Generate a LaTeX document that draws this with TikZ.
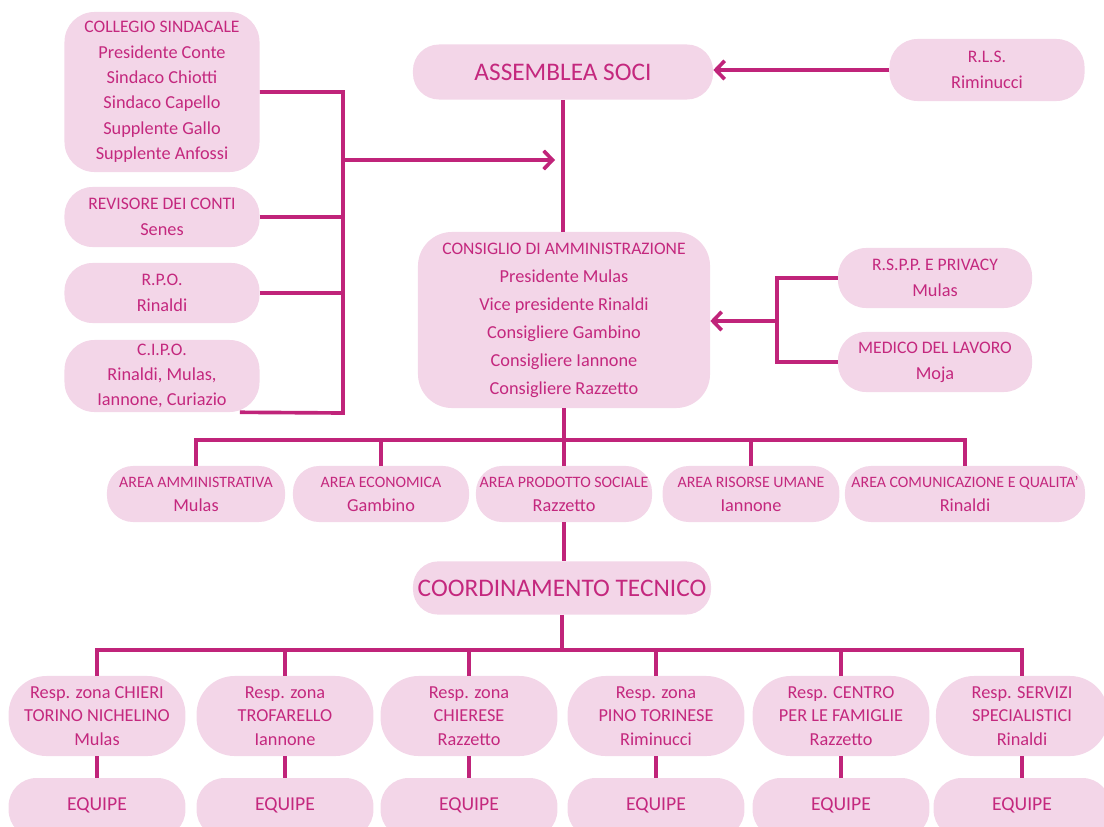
\documentclass[tikz,border=0pt]{standalone}
\usepackage{fontspec}
\setmainfont{Carlito}
\usetikzlibrary{arrows.meta}
\definecolor{boxpink}{RGB}{243,214,232}
\definecolor{linemag}{RGB}{192,36,122}
\definecolor{textmag}{RGB}{196,40,126}

\newcommand{\hd}[1]{{\fontsize{12.5}{15}\selectfont #1}}
\newcommand{\hds}[1]{{\fontsize{11.3}{13}\selectfont #1}}
\newcommand{\ttl}[1]{{\fontsize{18}{21}\selectfont #1}}

\tikzset{
  box/.style={fill=boxpink, text=textmag, align=center, inner sep=2pt,
    font=\fontsize{13}{18}\selectfont, rounded corners=0.7cm},
  link/.style={draw=linemag, line width=2.6pt},
  arrow/.style={link, -{Straight Barb[length=2.2mm,width=4.6mm]}},
}

\begin{document}
\begin{tikzpicture}[x=0.025cm,y=-0.025cm]
    \useasboundingbox (0,0) rectangle (1104,827);
    \clip (0,0) rectangle (1104,827);

    % Organi di controllo a sinistra
    \node[box, minimum width=4.875cm, minimum height=4cm, rounded corners=0.75cm] (collegio) at (162,92)
      {\hd{COLLEGIO SINDACALE}\\Presidente Conte\\Sindaco Chiotti\\Sindaco Capello\\Supplente Gallo\\Supplente Anfossi};
    \node[box, minimum width=4.875cm, minimum height=1.5cm, font=\fontsize{13}{18.5}\selectfont] (revisore) at (162,217)
      {\hd{REVISORE DEI CONTI}\\Senes};
    \node[box, minimum width=4.875cm, minimum height=1.5cm, font=\fontsize{13}{18.5}\selectfont] (rpo) at (162,293)
      {\hd{R.P.O.}\\Rinaldi};
    \node[box, minimum width=4.875cm, minimum height=1.8cm, rounded corners=0.75cm] (cipo) at (162,376)
      {\hd{C.I.P.O.}\\Rinaldi, Mulas,\\Iannone, Curiazio};

    % Assemblea e consiglio
    \node[box, minimum width=7.5cm, minimum height=1.375cm, rounded corners=0.65cm] (assemblea) at (563,72)
      {\ttl{ASSEMBLEA SOCI}};
    \node[box, minimum width=4.875cm, minimum height=1.55cm, font=\fontsize{13}{18.5}\selectfont] (rls) at (987,70)
      {\hd{R.L.S.}\\Riminucci};
    \node[box, minimum width=7.3cm, minimum height=4.4cm, rounded corners=0.85cm, font=\fontsize{13}{19.9}\selectfont] (cda) at (564,320)
      {\hd{CONSIGLIO DI AMMINISTRAZIONE}\\Presidente Mulas\\Vice presidente Rinaldi\\Consigliere Gambino\\Consigliere Iannone\\Consigliere Razzetto};

    % Sicurezza a destra
    \node[box, minimum width=4.85cm, minimum height=1.5cm, font=\fontsize{13}{18.5}\selectfont] (rspp) at (935,278)
      {\hd{R.S.P.P. E PRIVACY}\\Mulas};
    \node[box, minimum width=4.85cm, minimum height=1.5cm, font=\fontsize{13}{18.5}\selectfont] (medico) at (935,362)
      {\hd{MEDICO DEL LAVORO}\\Moja};

    % Aree
    \node[box, minimum width=4.45cm, minimum height=1.4cm, rounded corners=0.65cm, font=\fontsize{13}{17}\selectfont] (amm) at (196,494)
      {\hds{AREA AMMINISTRATIVA}\\Mulas};
    \node[box, minimum width=4.4cm, minimum height=1.4cm, rounded corners=0.65cm, font=\fontsize{13}{17}\selectfont] (eco) at (381,494)
      {\hds{AREA ECONOMICA}\\Gambino};
    \node[box, minimum width=4.4cm, minimum height=1.4cm, rounded corners=0.65cm, font=\fontsize{13}{17}\selectfont] (prod) at (564,494)
      {\hds{AREA PRODOTTO SOCIALE}\\Razzetto};
    \node[box, minimum width=4.42cm, minimum height=1.4cm, rounded corners=0.65cm, font=\fontsize{13}{17}\selectfont] (ris) at (751,494)
      {\hds{AREA RISORSE UMANE}\\Iannone};
    \node[box, minimum width=6cm, minimum height=1.4cm, rounded corners=0.65cm, font=\fontsize{13}{17}\selectfont] (com) at (965,494)
      {\hds{AREA COMUNICAZIONE E QUALITA'}\\Rinaldi};

    % Coordinamento
    \node[box, minimum width=7.45cm, minimum height=1.33cm, rounded corners=0.63cm] (coord) at (562,588)
      {\ttl{COORDINAMENTO TECNICO}};

    % Responsabili di zona
    \node[box, minimum width=4.42cm, minimum height=2cm, rounded corners=0.95cm, font=\fontsize{13}{16.7}\selectfont] (r1) at (97,716)
      {Resp. zona CHIERI\\TORINO NICHELINO\\Mulas};
    \node[box, minimum width=4.42cm, minimum height=2cm, rounded corners=0.95cm, font=\fontsize{13}{16.7}\selectfont] (r2) at (285,716)
      {Resp. zona\\TROFARELLO\\Iannone};
    \node[box, minimum width=4.42cm, minimum height=2cm, rounded corners=0.95cm, font=\fontsize{13}{16.7}\selectfont] (r3) at (469,716)
      {Resp. zona\\CHIERESE\\Razzetto};
    \node[box, minimum width=4.42cm, minimum height=2cm, rounded corners=0.95cm, font=\fontsize{13}{16.7}\selectfont] (r4) at (656,716)
      {Resp. zona\\PINO TORINESE\\Riminucci};
    \node[box, minimum width=4.42cm, minimum height=2cm, rounded corners=0.95cm, font=\fontsize{13}{16.7}\selectfont] (r5) at (841,716)
      {Resp. CENTRO\\PER LE FAMIGLIE\\Razzetto};
    \node[box, minimum width=4.3cm, minimum height=2cm, rounded corners=0.95cm, font=\fontsize{13}{16.7}\selectfont] (r6) at (1022,716)
      {Resp. SERVIZI\\SPECIALISTICI\\Rinaldi};

    % Equipe
    \foreach \x [count=\i] in {97,285,469,656,841,1022}
      \node[box, minimum width=4.42cm, minimum height=1.5cm] (e\i) at (\x,808) {\fontsize{14}{16}\selectfont EQUIPE\rule[-6pt]{0pt}{0pt}};

    % Collegamenti a sinistra
    \coordinate (lbus) at (343,413);
    \coordinate (cdain) at (555,160);
    \draw[link] (collegio.east) -| (lbus) -- ([xshift=-0.5cm]cipo.south east);
    \draw[link] (revisore.east) -- (revisore.east -| lbus);
    \draw[link] (rpo.east) -- (rpo.east -| lbus);
    \draw[arrow] (cdain -| lbus) -- (cdain);

    % Assemblea, RLS, consiglio
    \draw[link] (assemblea.south) -- (assemblea.south |- cda.north);
    \draw[arrow] (rls.west) -- (rls.west -| assemblea.east);

    % Collegamenti a destra
    \coordinate (rbus) at (777,321);
    \draw[link] (rspp.west) -| (rbus) |- (medico.west);
    \draw[arrow] (rbus) -- (rbus -| cda.east);

    % Consiglio verso le aree
    \coordinate (abus) at (565,440);
    \draw[link] (cda.south) -- (cda.south |- abus);
    \draw[link] (amm.north) |- (abus) -| (com.north);
    \foreach \a in {eco,prod,ris}
      \draw[link] (\a.north) -- (\a.north |- abus);

    % Area prodotto sociale verso coordinamento
    \draw[link] (prod.south) -- (prod.south |- coord.north);

    % Coordinamento verso responsabili
    \coordinate (tbus) at (562,650);
    \draw[link] (coord.south) -- (coord.south |- tbus);
    \draw[link] (r1.north) |- (tbus) -| (r6.north);
    \foreach \i in {2,...,5}
      \draw[link] (r\i.north) -- (r\i.north |- tbus);
    \foreach \i in {1,...,6}
      \draw[link] (r\i.south) -- (e\i.north);

\end{tikzpicture}
\end{document}
